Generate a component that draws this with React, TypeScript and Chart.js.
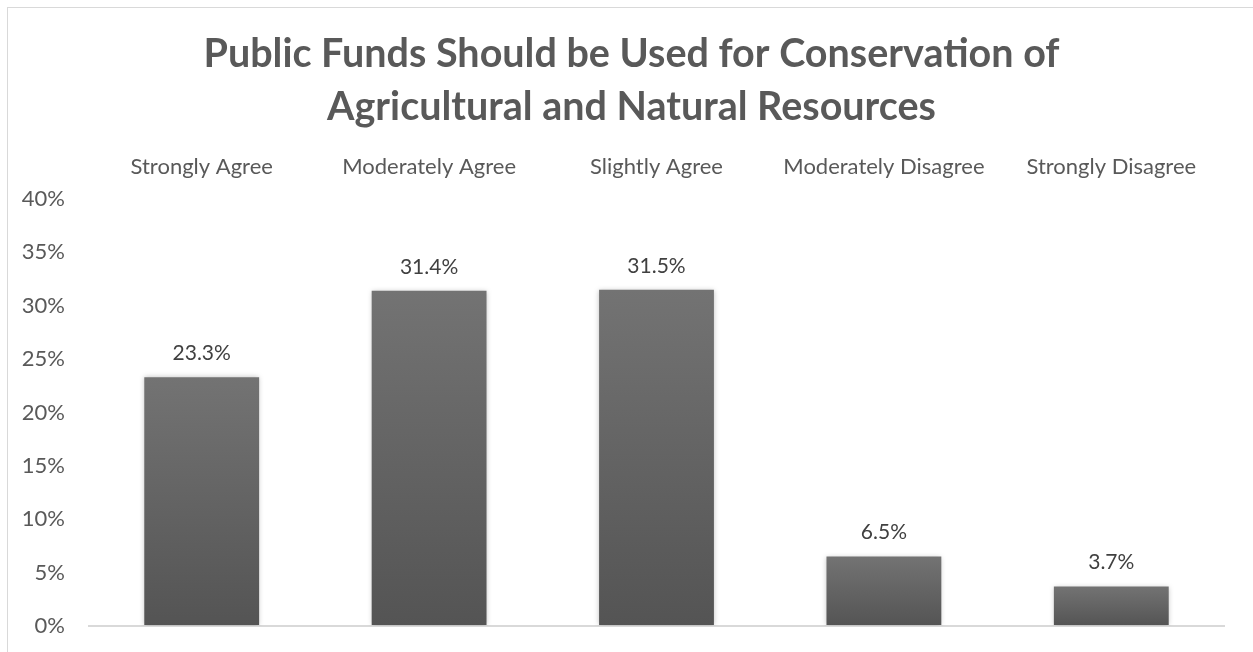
import React, { useEffect, useRef } from "react";
import { Chart, registerables } from "chart.js";

Chart.register(...registerables);

const categories = [
  "Strongly Agree",
  "Moderately Agree",
  "Slightly Agree",
  "Moderately Disagree",
  "Strongly Disagree",
];
const values = [23.3, 31.4, 31.5, 6.5, 3.7];
const titleLines = [
  "Public Funds Should be Used for Conservation of",
  "Agricultural and Natural Resources",
];
const yMin = 0;
const yMax = 40;
const yStep = 5;

const FONT = "Lato, 'Open Sans', sans-serif";
const CW = 1245;
const CH = 644;

const titlePlugin = {
  id: "centeredTitle",
  afterDraw(chart: any) {
    const ctx = chart.ctx;
    ctx.save();
    ctx.font = `bold 39.5px ${FONT}`;
    ctx.fillStyle = "#595959";
    ctx.textAlign = "center";
    ctx.textBaseline = "middle";
    const cx = chart.width / 2 + 1;
    titleLines.forEach((line, i) => {
      ctx.fillText(line, cx, 46.5 + i * 53);
    });
    ctx.restore();
  },
};

const dataLabelPlugin = {
  id: "dataLabels",
  afterDatasetsDraw(chart: any) {
    const ctx = chart.ctx;
    const meta = chart.getDatasetMeta(0);
    ctx.save();
    ctx.font = `21px ${FONT}`;
    ctx.fillStyle = "#404040";
    ctx.textAlign = "center";
    ctx.textBaseline = "middle";
    meta.data.forEach((bar: any, i: number) => {
      const v = chart.data.datasets[0].data[i];
      ctx.fillText(v.toFixed(1) + "%", bar.x, bar.y - 24);
    });
    ctx.restore();
  },
};

const shadowPlugin = {
  id: "barShadow",
  beforeDatasetsDraw(chart: any) {
    const ctx = chart.ctx;
    ctx.save();
    ctx.shadowColor = "rgba(0,0,0,0.25)";
    ctx.shadowBlur = 5;
    ctx.shadowOffsetX = 0;
    ctx.shadowOffsetY = 0;
  },
  afterDatasetsDraw(chart: any) {
    chart.ctx.restore();
  },
};

export default function App() {
  const canvasRef = useRef<HTMLCanvasElement | null>(null);

  useEffect(() => {
    if (!canvasRef.current) return;
    const chart = new Chart(canvasRef.current, {
      type: "bar",
      data: {
        labels: categories,
        datasets: [
          {
            data: values,
            backgroundColor: (context: any) => {
              const c = context.chart;
              const ys = c.scales && c.scales.y;
              if (!ys || context.raw === undefined) return "#5f5f5f";
              const top = ys.getPixelForValue(context.raw);
              const bottom = ys.getPixelForValue(0);
              if (!isFinite(top) || !isFinite(bottom) || top === bottom) return "#5f5f5f";
              const g = c.ctx.createLinearGradient(0, top, 0, bottom);
              g.addColorStop(0, "#737373");
              g.addColorStop(1, "#545454");
              return g;
            },
            borderWidth: 0,
            barPercentage: 0.505,
            categoryPercentage: 1,
          },
        ],
      },
      options: {
        animation: false,
        responsive: false,
        maintainAspectRatio: false,
        layout: { padding: { left: 8, right: 28, top: 126, bottom: 26 } },
        plugins: {
          legend: { display: false },
          tooltip: { enabled: false },
          title: { display: false },
        },
        scales: {
          x: {
            position: "top",
            grid: { display: false, drawTicks: false },
            border: { display: false },
            ticks: {
              color: "#595959",
              font: { family: FONT, size: 22 },
              padding: 19,
              maxRotation: 0,
              autoSkip: false,
            },
            afterFit: (scale: any) => {
              scale.height = 65;
            },
          },
          y: {
            min: yMin,
            max: yMax,
            grid: {
              drawTicks: false,
              color: (ctx: any) => (ctx.tick && ctx.tick.value === 0 ? "#d9d9d9" : "rgba(0,0,0,0)"),
              lineWidth: 2,
            },
            border: { display: false },
            ticks: {
              stepSize: yStep,
              color: "#595959",
              font: { family: FONT, size: 22 },
              padding: 23,
              callback: (v: any) => v + "%",
            },
            afterFit: (scale: any) => {
              scale.width = 72;
              scale.paddingTop = 13;
              scale.paddingBottom = 13;
            },
          },
        },
      },
      plugins: [shadowPlugin, dataLabelPlugin, titlePlugin],
    });
    return () => chart.destroy();
  }, []);

  return (
    <div
      style={{
        position: "fixed",
        left: 7,
        top: 7,
        width: 1246,
        height: 645,
        boxSizing: "border-box",
        borderLeft: "1px solid #d9d9d9",
        borderTop: "1px solid #d9d9d9",
        background: "#fff",
        overflow: "hidden",
      }}
    >
      <canvas
        ref={canvasRef}
        width={CW}
        height={CH}
        style={{ display: "block", width: CW, height: CH }}
      />
    </div>
  );
}
